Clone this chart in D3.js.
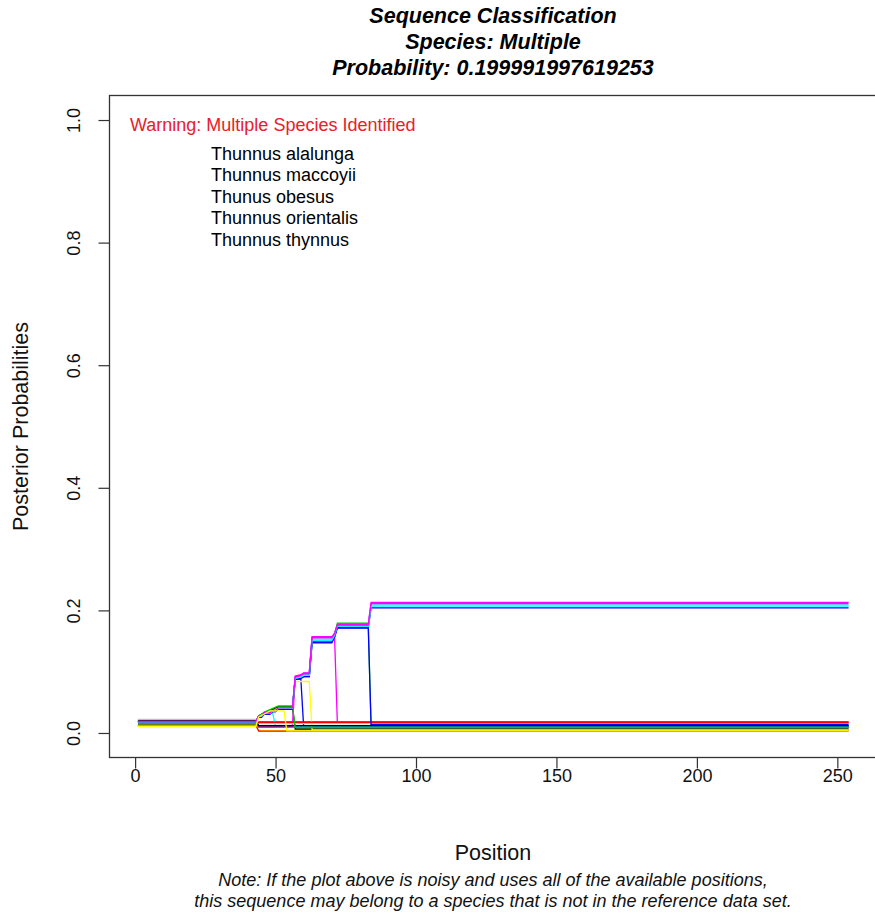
<!DOCTYPE html>
<html>
<head>
<meta charset="utf-8">
<script src="https://cdn.jsdelivr.net/npm/d3@7"></script>
<style>
  html, body { margin: 0; padding: 0; background: #fff; }
  svg { display: block; }
  text { font-family: "Liberation Sans", Arial, sans-serif; }
</style>
</head>
<body>
<script>
// ---- data -------------------------------------------------------------
const positionExtent = [1, 254];
const xTicks = [0, 50, 100, 150, 200, 250];
const yTicks = [0, 0.2, 0.4, 0.6, 0.8, 1.0];
const yExtent = [0, 1];

const titleLines = [
  "Sequence Classification",
  "Species: Multiple",
  "Probability: 0.199991997619253"
];
const warningText = "Warning: Multiple Species Identified";
const identifiedSpecies = [
  "Thunnus alalunga",
  "Thunnus maccoyii",
  "Thunus obesus",
  "Thunnus orientalis",
  "Thunnus thynnus"
];
const noteLines = [
  "Note: If the plot above is noisy and uses all of the available positions,",
  "this sequence may belong to a species that is not in the reference data set."
];

// Posterior probability per reference species, as [position, probability]
// breakpoints; the value holds between listed positions.
const sp01 = [[1,.020],[43,.020],[44,.012],[254,.012]];
const sp02 = [[1,.013],[43,.013],[44,.018],[254,.018]];
const sp03 = [[1,.015],[43,.015],[44,.009],[254,.009]];
const sp04 = [[1,.0188],[43,.0188],[44,.026],[45,.026],[46,.031],[48,.031],[49,.035],[50,.035],[51,.039],[56,.039],[57,.087],[59,.089],[60,.092],[62,.092],[63,.147],[70,.147],[71,.156],[72,.171],[83,.171],[84,.204],[254,.204]];
const sp05 = [[1,.0182],[43,.0182],[44,.027],[45,.027],[46,.032],[48,.032],[49,.036],[50,.036],[51,.040],[56,.040],[57,.090],[59,.092],[60,.095],[62,.095],[63,.153],[70,.153],[71,.160],[72,.175],[83,.175],[84,.209],[254,.209]];
const sp06 = [[1,.019],[43,.019],[44,.028],[45,.028],[46,.034],[48,.034],[49,.038],[50,.038],[51,.041],[56,.041],[57,.093],[59,.095],[60,.098],[62,.098],[63,.156],[70,.156],[71,.163],[72,.177],[83,.177],[84,.213],[254,.213]];
const sp07 = [[1,.011],[43,.011],[44,.004],[254,.004]];
const sp08 = [[1,.022],[43,.022],[44,.016],[254,.016]];
const sp09 = [[1,.017],[43,.017],[44,.028],[46,.033],[49,.039],[51,.043],[56,.043],[57,.0065],[254,.0065]];
const sp10 = [[1,.0125],[43,.0125],[44,.003],[254,.003]];
const sp11 = [[1,.0184],[43,.0184],[44,.027],[45,.027],[46,.032],[48,.032],[49,.036],[50,.036],[51,.040],[56,.040],[57,.089],[59,.091],[60,.094],[62,.094],[63,.150],[70,.150],[71,.160],[72,.179],[83,.179],[84,.011],[254,.011]];
const sp12 = [[1,.0186],[43,.0186],[44,.026],[46,.032],[49,.036],[51,.039],[56,.039],[57,.088],[59,.088],[60,.010],[254,.010]];
const sp13 = [[1,.018],[43,.018],[44,.027],[46,.032],[49,.032],[50,.0105],[254,.0105]];
const sp14 = [[1,.0185],[43,.0185],[44,.010],[55,.010],[56,.011],[57,.091],[59,.094],[60,.097],[62,.097],[63,.157],[71,.157],[72,.0163],[254,.0163]];
const sp15 = [[1,.0112],[43,.0112],[44,.027],[46,.032],[49,.036],[51,.040],[56,.040],[57,.084],[62,.084],[63,.005],[254,.005]];
const sp16 = [[1,.0215],[43,.0215],[44,.0155],[254,.0155]];
const sp17 = [[1,.0198],[43,.0198],[44,.0118],[254,.0118]];
const sp18 = [[1,.0128],[43,.0128],[44,.0175],[254,.0175]];
const sp19 = [[1,.015],[43,.015],[44,.027],[46,.034],[49,.040],[51,.044],[56,.044],[57,.0088],[254,.0088]];
const sp20 = [[1,.0185],[43,.0185],[44,.026],[45,.026],[46,.031],[48,.031],[49,.035],[50,.035],[51,.039],[56,.039],[57,.087],[59,.089],[60,.092],[62,.092],[63,.148],[70,.148],[71,.157],[72,.172],[83,.172],[84,.014],[254,.014]];
const sp21 = [[1,.0181],[43,.0181],[44,.027],[45,.027],[46,.032],[48,.032],[49,.036],[50,.036],[51,.040],[56,.040],[57,.089],[59,.091],[60,.094],[62,.094],[63,.151],[70,.151],[71,.159],[72,.174],[83,.174],[84,.207],[254,.207]];
const sp22 = [[1,.0187],[43,.0187],[44,.028],[45,.028],[46,.033],[48,.033],[49,.037],[50,.037],[51,.041],[56,.041],[57,.092],[59,.094],[60,.097],[62,.097],[63,.155],[70,.155],[71,.162],[72,.176],[83,.176],[84,.211],[254,.211]];
const sp23 = [[1,.011],[43,.011],[44,.026],[46,.031],[48,.036],[53,.036],[54,.0035],[254,.0035]];

const speciesSeries = [sp01, sp02, sp03, sp04, sp05, sp06, sp07, sp08, sp09, sp10, sp11, sp12,
                       sp13, sp14, sp15, sp16, sp17, sp18, sp19, sp20, sp21, sp22, sp23];

// base R default palette, recycled over the species
const basePalette = ["#000000", "#FF0000", "#00CD00", "#0000FF", "#00FFFF", "#FF00FF", "#FFFF00", "#BEBEBE"];

// ---- layout -------------------------------------------------------------
const W = 875, H = 915;
const plot = { left: 109.5, right: 877, top: 95.5, bottom: 757.5 };
const FONT = "Liberation Sans, Arial, sans-serif";

const svg = d3.select("body").append("svg")
  .attr("width", W).attr("height", H);

// R-style 4% axis padding
const xPad = 0.04 * (positionExtent[1] - positionExtent[0]);
const yPad = 0.04 * (yExtent[1] - yExtent[0]);
const x = d3.scaleLinear()
  .domain([positionExtent[0] - xPad, positionExtent[1] + xPad])
  .range([plot.left, plot.right]);
const y = d3.scaleLinear()
  .domain([yExtent[0] - yPad, yExtent[1] + yPad])
  .range([plot.bottom, plot.top]);
const color = d3.scaleOrdinal().domain(d3.range(speciesSeries.length)).range(basePalette);

// ---- series -----------------------------------------------------------
const line = d3.line().x(d => x(d[0])).y(d => y(d[1]));
svg.append("g")
  .selectAll("path")
  .data(speciesSeries)
  .join("path")
  .attr("d", line)
  .attr("fill", "none")
  .attr("stroke", (d, i) => color(i))
  .attr("stroke-width", 1.3)
  .attr("stroke-linejoin", "miter");

// ---- axes -------------------------------------------------------------
const tickFont = 18;
const xAxis = d3.axisBottom(x).tickValues(xTicks).tickSize(11).tickPadding(7).tickFormat(d3.format("d"));
const gx = svg.append("g").attr("transform", `translate(0,${plot.bottom})`).call(xAxis);
gx.select(".domain").remove();
gx.selectAll("line").attr("stroke", "#333").attr("stroke-width", 1.2);
gx.selectAll("text")
  .attr("font-size", tickFont).attr("font-family", FONT).attr("fill", "#111")
  .attr("y", 18).attr("dy", null).attr("dominant-baseline", "central");

const yAxis = d3.axisLeft(y).tickValues(yTicks).tickSize(11).tickFormat(d3.format(".1f"));
const gy = svg.append("g").attr("transform", `translate(${plot.left},0)`).call(yAxis);
gy.select(".domain").remove();
gy.selectAll("line").attr("stroke", "#333").attr("stroke-width", 1.2);
gy.selectAll("text")
  .attr("font-size", tickFont).attr("font-family", FONT).attr("fill", "#111")
  .attr("x", null).attr("dy", null)
  .attr("text-anchor", "middle")
  .attr("dominant-baseline", "central")
  .attr("transform", "translate(-36,0) rotate(-90)");

// plot frame
svg.append("rect")
  .attr("x", plot.left).attr("y", plot.top)
  .attr("width", plot.right - plot.left).attr("height", plot.bottom - plot.top)
  .attr("fill", "none").attr("stroke", "#333").attr("stroke-width", 1.3);

// ---- titles and labels ------------------------------------------------
svg.append("g").selectAll("text")
  .data(titleLines)
  .join("text")
  .attr("x", 493)
  .attr("y", (d, i) => 16 + i * 26)
  .attr("text-anchor", "middle")
  .attr("dominant-baseline", "central")
  .attr("font-size", 21.5)
  .attr("font-weight", "bold")
  .attr("font-style", "italic")
  .attr("fill", "#000")
  .text(d => d);

svg.append("text")
  .attr("x", 493).attr("y", 853)
  .attr("text-anchor", "middle").attr("dominant-baseline", "central")
  .attr("font-size", 21.5).attr("fill", "#111")
  .text("Position");

svg.append("text")
  .attr("transform", `translate(21,${(plot.top + plot.bottom) / 2}) rotate(-90)`)
  .attr("text-anchor", "middle").attr("dominant-baseline", "central")
  .attr("font-size", 21.5).attr("fill", "#111")
  .text("Posterior Probabilities");

svg.append("g").selectAll("text")
  .data(noteLines)
  .join("text")
  .attr("x", 493)
  .attr("y", (d, i) => 880 + i * 21)
  .attr("text-anchor", "middle").attr("dominant-baseline", "central")
  .attr("font-size", 18).attr("font-style", "italic").attr("fill", "#111")
  .text(d => d);

// ---- legend -----------------------------------------------------------
svg.append("text")
  .attr("x", 130).attr("y", 125)
  .attr("dominant-baseline", "central")
  .attr("font-size", 18).attr("fill", "#E8202A")
  .text(warningText);

svg.append("g").selectAll("text")
  .data(identifiedSpecies)
  .join("text")
  .attr("x", 211)
  .attr("y", (d, i) => 153.5 + i * 21.5)
  .attr("dominant-baseline", "central")
  .attr("font-size", 18).attr("fill", "#000")
  .text(d => d);
</script>
</body>
</html>
